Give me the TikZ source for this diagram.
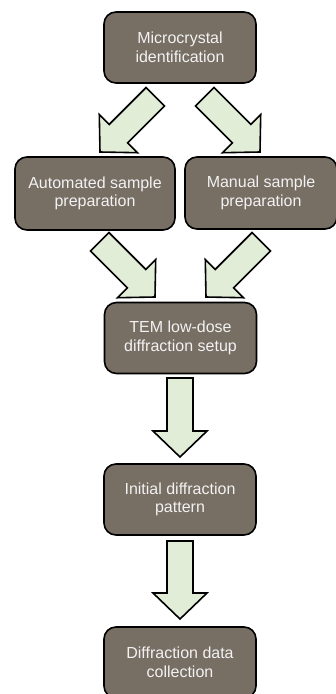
\documentclass[tikz,border=0pt]{standalone}
\usepackage{fontspec}
\setmainfont{Liberation Sans}
\usetikzlibrary{calc}
\definecolor{boxfill}{HTML}{776E64}
\definecolor{arrowfill}{HTML}{E2EDD8}
\definecolor{boxtext}{HTML}{F2F2F2}
\tikzset{
  stepbox/.style={draw=black, line width=1.6pt, fill=boxfill, rounded corners=12pt,
    minimum width=152pt, minimum height=71pt, align=center, text=boxtext,
    font=\fontsize{16}{18.5}\selectfont, inner sep=0pt},
  blockarrow/.style={draw=black, line width=1.6pt, fill=arrowfill, line join=miter}
}
\newcommand{\fatarrow}[2]{%
  \draw[blockarrow]
    ($(#1)!13pt!90:(#2)$) --
    ($($(#2)!26pt!(#1)$)!13pt!-90:(#1)$) --
    ($($(#2)!26pt!(#1)$)!27pt!-90:(#1)$) --
    (#2) --
    ($($(#2)!26pt!(#1)$)!27pt!90:(#1)$) --
    ($($(#2)!26pt!(#1)$)!13pt!90:(#1)$) --
    ($(#1)!13pt!-90:(#2)$) -- cycle;}
\begin{document}
\begin{tikzpicture}[x=1pt,y=-1pt]
\useasboundingbox (0,0) rectangle (336,694);
\node[stepbox] (micro) at (180,47.5) {Microcrystal\\identification};
\node[stepbox, minimum width=160pt, minimum height=73pt] (auto) at (95,193.5) {Automated sample\\preparation};
\node[stepbox, minimum height=72pt] (manual) at (261,193) {Manual sample\\preparation};
\node[stepbox] (tem) at (180.5,338) {TEM low-dose\\diffraction setup};
\node[stepbox] (init) at (180,499.5) {Initial diffraction\\pattern};
\node[stepbox] (coll) at (180,662.5) {Diffraction data\\collection};
% arrow ends
\coordinate (a1t) at (155.2,96.8);  \coordinate (a1h) at (100,152);
\coordinate (a2t) at (204.8,96.8);  \coordinate (a2h) at (260,152);
\coordinate (a3t) at (99.8,241.8);  \coordinate (a3h) at (155,297);
\coordinate (a4t) at (261.2,241.8); \coordinate (a4h) at (206,297);
\coordinate (a5t) at (180,378);     \coordinate (a5h) at (180,457);
\coordinate (a6t) at (180,541);     \coordinate (a6h) at (180,619);
\fatarrow{a1t}{a1h}
\fatarrow{a2t}{a2h}
\fatarrow{a3t}{a3h}
\fatarrow{a4t}{a4h}
\fatarrow{a5t}{a5h}
\fatarrow{a6t}{a6h}
\end{tikzpicture}
\end{document}
